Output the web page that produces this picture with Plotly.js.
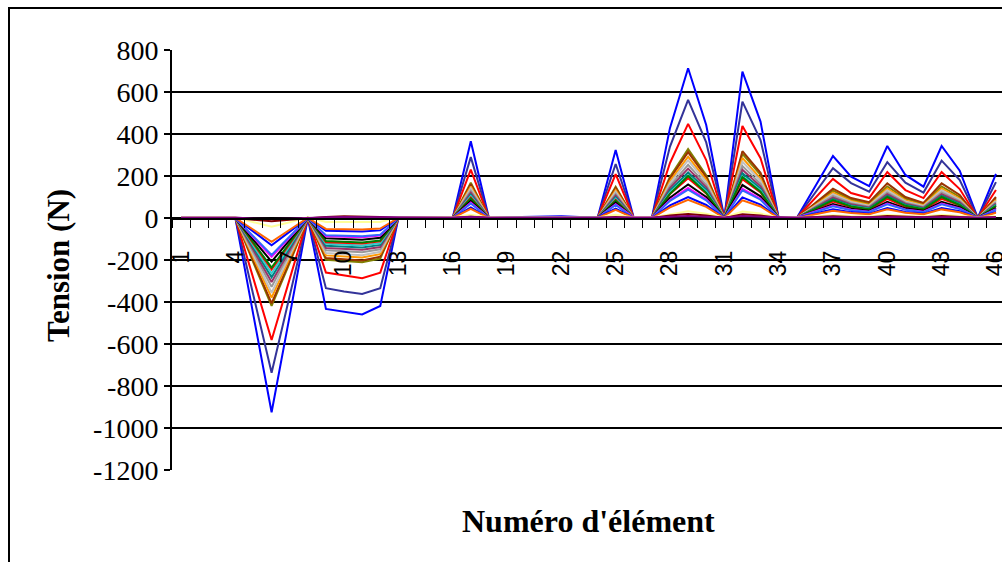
<!DOCTYPE html>
<html><head><meta charset="utf-8">
<script src="https://cdn.plot.ly/plotly-3.0.1.min.js"></script>
<style>
html,body{margin:0;padding:0;overflow:hidden;background:#fff;width:1002px;height:562px;}
#frame{position:absolute;left:8px;top:7px;width:1100px;height:700px;border:2px solid #000;box-sizing:border-box;}
#chart{position:absolute;left:0;top:0;width:1040px;height:562px;}
</style></head><body>
<div id="frame"></div>
<div id="chart"></div>
<script>
const categories = [1,2,3,4,5,6,7,8,9,10,11,12,13,14,15,16,17,18,19,20,21,22,23,24,25,26,27,28,29,30,31,32,33,34,35,36,37,38,39,40,41,42,43,44,45,46];
const xTickLabels = ["1","4","7","10","13","16","19","22","25","28","31","34","37","40","43","46"];
const yTickLabels = ["-1200","-1000","-800","-600","-400","-200","0","200","400","600","800"];

const serie1  = [0,0,0,0,-465,-925,-465,0,-433,-446,-459,-419,0,0,0,0,365,0,0,0,0,0,0,0,324,0,0,429,713,443,0,697,459,0,0,148,295,197,152,343,205,149,343,225,0,210];
const serie2  = [0,0,0,0,-370,-737,-370,0,-334,-350,-362,-334,0,0,0,0,290,0,0,0,0,0,0,0,257,0,0,340,562,360,0,554,371,0,0,118,237,166,125,266,168,121,273,181,0,171];
const serie3  = [0,0,0,0,-290,-581,-290,0,-260,-273,-287,-260,0,0,0,0,230,0,0,0,0,0,0,0,209,0,0,262,448,276,0,438,285,0,0,93,186,119,95,219,133,95,219,138,0,133];
const serie4  = [0,0,0,0,-214,-418,-214,0,-199,-205,-211,-193,0,0,0,0,168,0,0,0,0,0,0,0,149,0,0,197,328,204,0,305,205,0,0,64,130,88,68,150,92,67,150,100,0,94];
const serie5  = [0,0,0,0,-205,-407,-205,0,-191,-196,-202,-184,0,0,0,0,161,0,0,0,0,0,0,0,143,0,0,189,314,195,0,318,215,0,0,70,140,95,75,165,100,72,165,110,0,100];
const serie6  = [0,0,0,0,-190,-379,-190,0,-178,-183,-188,-172,0,0,0,0,150,0,0,0,0,0,0,0,133,0,0,176,292,182,0,286,188,0,0,61,121,81,62,141,84,61,141,92,0,86];
const serie7  = [0,0,0,0,-178,-356,-178,0,-167,-172,-177,-161,0,0,0,0,141,0,0,0,0,0,0,0,125,0,0,165,275,171,0,268,177,0,0,57,114,76,59,132,79,57,132,87,0,81];
const serie8  = [0,0,0,0,-164,-328,-164,0,-154,-158,-163,-149,0,0,0,0,130,0,0,0,0,0,0,0,115,0,0,152,253,157,0,247,163,0,0,53,105,70,54,122,73,53,122,80,0,75];
const serie9  = [0,0,0,0,-153,-305,-153,0,-143,-147,-151,-138,0,0,0,0,120,0,0,0,0,0,0,0,107,0,0,142,235,146,0,230,151,0,0,49,97,65,50,113,68,49,113,74,0,69];
const serie10 = [0,0,0,0,-141,-282,-141,0,-132,-136,-140,-128,0,0,0,0,111,0,0,0,0,0,0,0,99,0,0,131,217,135,0,213,140,0,0,45,90,60,46,105,63,45,105,69,0,64];
const serie11 = [0,0,0,0,-132,-264,-132,0,-123,-127,-131,-119,0,0,0,0,104,0,0,0,0,0,0,0,92,0,0,122,203,126,0,199,131,0,0,42,84,56,43,98,58,42,98,64,0,60];
const serie12 = [0,0,0,0,-123,-245,-123,0,-115,-118,-122,-111,0,0,0,0,97,0,0,0,0,0,0,0,86,0,0,114,189,117,0,185,122,0,0,39,78,52,40,91,54,39,91,60,0,56];
const serie13 = [0,0,0,0,-118,-236,-118,0,-110,-114,-117,-107,0,0,0,0,93,0,0,0,0,0,0,0,83,0,0,115,200,120,0,195,125,0,0,42,85,55,42,100,58,42,100,62,0,58];
const serie14 = [0,0,0,0,-104,-208,-104,0,-97,-100,-103,-94,0,0,0,0,82,0,0,0,0,0,0,0,73,0,0,97,160,100,0,157,103,0,0,33,66,44,34,77,46,34,77,51,0,47];
const serie15 = [0,0,0,0,-93,-185,-93,0,-87,-89,-92,-84,0,0,0,0,73,0,0,0,0,0,0,0,65,3,3,86,143,89,0,139,92,0,3,30,59,39,30,69,41,30,69,45,0,42];
const serie16 = [0,0,0,0,-88,-176,-88,0,-82,-85,-87,-80,0,0,0,0,69,0,0,0,0,0,0,0,62,0,0,82,135,84,0,132,87,0,0,28,56,37,29,65,39,28,65,43,0,40];
const serie17 = [0,0,0,0,-65,-130,-65,0,-61,-62,-64,-59,0,0,0,0,51,0,3,5,8,8,5,3,45,0,0,60,100,62,0,98,64,0,0,21,41,28,21,48,29,21,48,32,0,29];
const serie18 = [0,0,0,0,-56,-113,-56,0,-52,-54,-55,-50,0,0,0,0,44,0,0,0,0,0,0,0,39,0,0,51,86,53,0,84,55,0,0,18,35,24,18,41,25,18,41,27,0,25];
const serie19 = [3,3,3,3,-20,-42,-20,3,-19,-20,-21,-19,3,3,3,3,16,3,3,3,3,3,3,3,15,3,3,19,32,20,3,31,21,3,3,7,13,9,7,15,9,7,15,10,3,9];
const serie20 = [0,0,0,0,-8,-16,-8,0,5,8,8,5,0,0,0,0,6,0,0,0,0,0,0,0,5,0,0,12,19,12,0,18,12,0,0,4,8,5,4,9,5,4,9,6,0,5];
const serie21 = [2,2,3,2,-3,-5,-3,2,4,5,5,4,2,2,2,2,6,2,2,2,2,2,2,2,5,2,2,6,9,6,2,9,6,2,2,3,5,4,3,5,4,3,5,4,2,4];

const seriesValues = [serie1,serie2,serie3,serie4,serie5,serie6,serie7,serie8,serie9,serie10,serie11,serie12,serie13,serie14,serie15,serie16,serie17,serie18,serie19,serie20,serie21];
const seriesColors = ["#0000FF","#333399","#FF0000","#808000","#993300","#FF9900","#C0C0C0","#999999","#993366","#008080","#33CCCC","#FF0000","#008000","#000000","#FF00FF","#3366FF","#0000FF","#FF6600","#FFFF99","#800000","#800080"];

const traces = seriesValues.map((vals, i) => ({
  type: 'scatter', mode: 'lines', x: categories, y: vals,
  line: {color: seriesColors[i], width: 2}, name: 'Série ' + (i+1),
  hoverinfo: 'skip'
}));

const layout = {
  width: 1040, height: 562,
  margin: {l: 172, r: 35, t: 50, b: 92},
  paper_bgcolor: 'rgba(0,0,0,0)', plot_bgcolor: 'rgba(0,0,0,0)',
  showlegend: false,
  xaxis: {
    type: 'linear', range: [0.5, 46.5], anchor: 'free', position: 0.6,
    tickmode: 'array', tickvals: xTickLabels.map(Number), ticktext: xTickLabels,
    tickangle: -90, ticks: 'outside', ticklen: 8, tickcolor: 'rgba(0,0,0,0)',
    ticklabelstandoff: 14,
    tickfont: {family: 'Liberation Sans, Arial, sans-serif', size: 23, color: '#000'},
    showline: true, linecolor: '#000', linewidth: 1.5, showgrid: false, zeroline: false,
    layer: 'above traces',
    minor: {tickmode: 'linear', tick0: 0.5, dtick: 1, ticks: 'outside', ticklen: 8, tickcolor: '#000', tickwidth: 1, showgrid: false}
  },
  yaxis: {
    range: [-1200, 800], tickmode: 'array', tickvals: yTickLabels.map(Number), ticktext: yTickLabels,
    ticks: 'outside', ticklen: 6, tickcolor: '#000', tickwidth: 1.5,
    tickfont: {family: 'Liberation Serif, Times New Roman, serif', size: 28, color: '#000'},
    showline: true, linecolor: '#000', linewidth: 2,
    showgrid: true, gridcolor: '#000', gridwidth: 1.3, zeroline: false
  },
  annotations: [
    {text: 'Tension (N)', xref: 'paper', yref: 'paper', x: -0.137, y: 0.488, xanchor: 'center', yanchor: 'middle',
     textangle: -90, showarrow: false, font: {family: 'Liberation Serif, Times New Roman, serif', size: 31, weight: 'bold', color: '#000'}},
    {text: "Numéro d'élément", xref: 'paper', yref: 'paper', x: 0.5, y: -0.1214, xanchor: 'center', yanchor: 'middle',
     showarrow: false, font: {family: 'Liberation Serif, Times New Roman, serif', size: 32, weight: 'bold', color: '#000'}}
  ]
};

Plotly.newPlot('chart', traces, layout, {staticPlot: true, displayModeBar: false});
</script>
</body></html>
